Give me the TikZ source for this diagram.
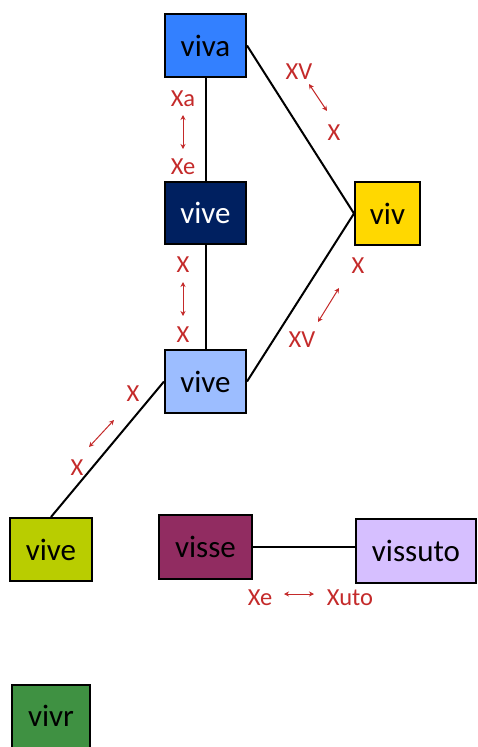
\documentclass[tikz,border=0pt]{standalone}
\usepackage{fontspec}
\setmainfont{Carlito}
\usetikzlibrary{arrows.meta}
\definecolor{cviva}{HTML}{3380FF}
\definecolor{cvived}{HTML}{002060}
\definecolor{cviv}{HTML}{FFD800}
\definecolor{cvivel}{HTML}{9CBDFF}
\definecolor{clime}{HTML}{B9CD00}
\definecolor{cvisse}{HTML}{912C61}
\definecolor{cvissuto}{HTML}{D6BFFF}
\definecolor{cvivr}{HTML}{3F9142}
\definecolor{lred}{HTML}{C42A2A}
\tikzset{
  box/.style={draw=black, line width=2pt, inner sep=0pt, font=\fontsize{31}{32}\selectfont},
  conn/.style={draw=black, line width=2pt},
  lab/.style={text=lred, inner sep=0pt, font=\fontsize{24.5}{25}\selectfont},
  darr/.style={draw=lred, line width=1pt, {Stealth[length=5pt,width=5pt]}-{Stealth[length=5pt,width=5pt]}}
}
\begin{document}
\begin{tikzpicture}[x=1pt,y=-1pt]
\useasboundingbox (0,0) rectangle (477,747);
% boxes
\node[box, fill=cviva, minimum width=81pt, minimum height=63pt] (viva) at (205.5,45.5) {viva};
\node[box, fill=cvived, text=white, minimum width=81pt, minimum height=62pt] (vived) at (205.5,213) {vive};
\node[box, fill=cviv, minimum width=65pt, minimum height=63pt] (viv) at (387.5,213.5) {viv};
\node[box, fill=cvivel, minimum width=81pt, minimum height=63pt] (vivel) at (205.5,381.5) {vive};
\node[box, fill=clime, minimum width=82pt, minimum height=63pt] (vivelime) at (51,549.5) {vive};
\node[box, fill=cvisse, minimum width=93pt, minimum height=64pt] (visse) at (205.5,547) {visse};
\node[box, fill=cvissuto, minimum width=120pt, minimum height=64pt] (vissuto) at (416,551) {vissuto};
\node[box, fill=cvivr, minimum width=78pt, minimum height=63pt] (vivr) at (51,716) {vivr};
% connectors
\draw[conn] (viva.south) -- (vived.north);
\draw[conn] (viva.east) -- (viv.west);
\draw[conn] (vived.south) -- (vivel.north);
\draw[conn] (viv.west) -- (vivel.east);
\draw[conn] (vivel.west) -- (vivelime.north);
\draw[conn] (visse.east) -- (vissuto.west |- visse.east);
% labels
\node[lab] (l1a) at (183,99) {Xa};
\node[lab] (l1b) at (183,167) {Xe};
\coordinate (a1s) at (183,115); \coordinate (a1e) at (183,149);
\draw[darr] (a1s) -- (a1e);

\node[lab] (l2a) at (299,72) {XV};
\node[lab] (l2b) at (334,133) {X};
\coordinate (a2s) at (309,84); \coordinate (a2e) at (327,111);
\draw[darr] (a2s) -- (a2e);

\node[lab] (l3a) at (183,265) {X};
\node[lab] (l3b) at (183,335) {X};
\coordinate (a3s) at (183,282); \coordinate (a3e) at (183,316);
\draw[darr] (a3s) -- (a3e);

\node[lab] (l4a) at (358,266) {X};
\node[lab] (l4b) at (302,340) {XV};
\coordinate (a4s) at (339,288); \coordinate (a4e) at (318,322);
\draw[darr] (a4s) -- (a4e);

\node[lab] (l5a) at (133,394) {X};
\node[lab] (l5b) at (77,468) {X};
\coordinate (a5s) at (114,420); \coordinate (a5e) at (89,447);
\draw[darr] (a5s) -- (a5e);

\node[lab] (l6a) at (260,598) {Xe};
\node[lab] (l6b) at (350,598) {Xuto};
\coordinate (a6s) at (284,594); \coordinate (a6e) at (314,594);
\draw[darr] (a6s) -- (a6e);
\end{tikzpicture}
\end{document}
